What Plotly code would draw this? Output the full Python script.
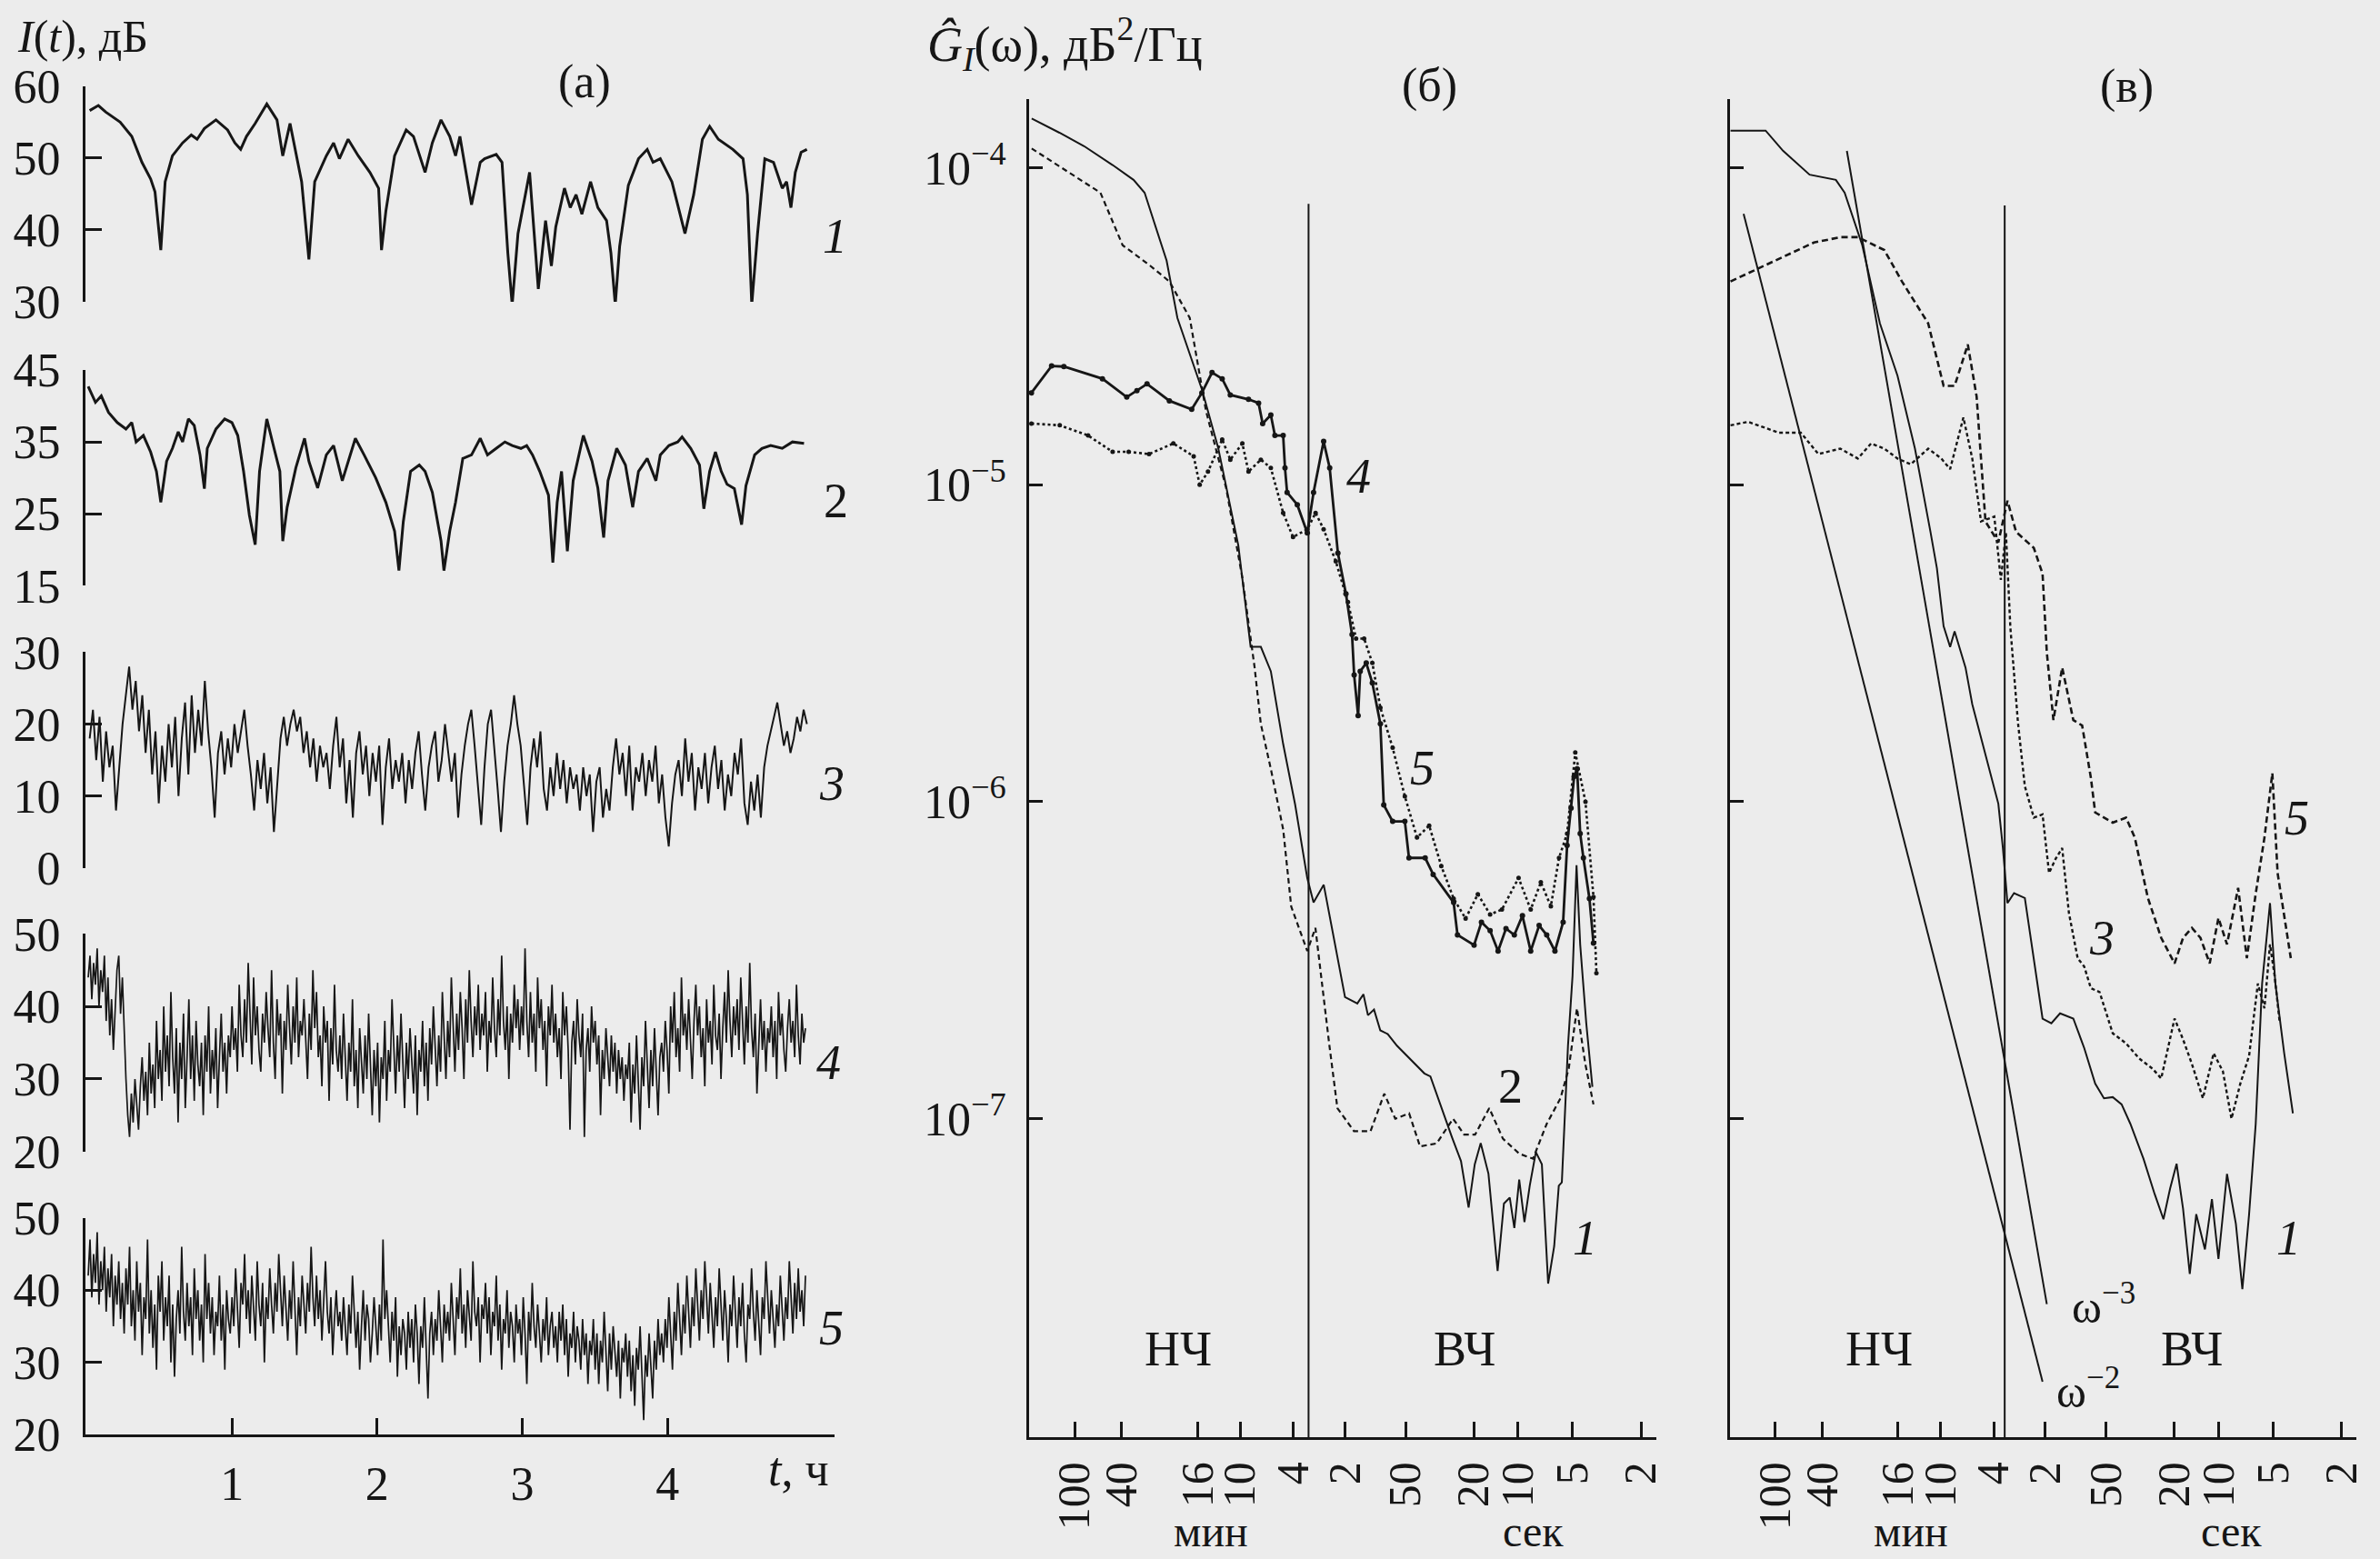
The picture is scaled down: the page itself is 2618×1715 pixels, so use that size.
import numpy as np
import plotly.graph_objects as go

W, H = 2618, 1715
SCALE = 2618 / 1568.0
BG = "#ececec"
INK = "#161616"
FONT = "Liberation Serif, Times New Roman, serif"

# ---------------- panel (a): I(t), dB ----------------
t1 = [0.02,0.08,0.13,0.23,0.31,0.38,0.44,0.47,0.51,0.54,
      0.59,0.66,0.72,0.76,0.81,0.89,0.97,1.02,1.06,1.10,
      1.16,1.24,1.31,1.35,1.40,1.48,1.53,1.57,1.65,1.70,
      1.74,1.80,1.87,1.95,2.01,2.03,2.06,2.12,2.20,2.25,
      2.33,2.38,2.44,2.50,2.54,2.57,2.65,2.71,2.74,2.82,
      2.86,2.90,2.93,2.97,3.05,3.08,3.11,3.16,3.20,3.23,
      3.29,3.33,3.37,3.41,3.47,3.52,3.58,3.61,3.64,3.67,
      3.73,3.80,3.86,3.90,3.95,4.03,4.12,4.18,4.24,4.29,
      4.35,4.45,4.52,4.55,4.58,4.62,4.67,4.73,4.79,4.82,
      4.85,4.88,4.92,4.96]
v1 = [56.6,57.3,56.4,55.0,53.0,49.4,47.1,45.3,37.2,46.7,
      50.3,52.1,53.2,52.6,54.1,55.3,53.9,52.1,51.2,53.0,
      54.8,57.5,55.3,50.3,54.8,46.7,35.9,46.7,50.3,52.1,
      49.9,52.6,50.3,48.0,45.8,37.2,42.6,50.3,53.9,53.0,
      48.0,52.1,55.3,53.0,50.3,53.0,43.5,49.4,49.9,50.5,
      49.4,36.8,29.6,39.5,48.0,40.4,31.8,41.3,35.0,40.4,
      45.8,43.1,44.9,42.2,46.7,43.1,41.3,36.8,29.6,37.7,
      46.2,49.9,51.2,49.4,49.9,46.7,39.5,44.9,52.6,54.4,
      52.6,51.2,49.9,44.9,29.6,39.5,49.9,49.4,45.8,46.7,
      43.1,48.0,50.8,51.2]

t2 = [0.01,0.06,0.10,0.15,0.21,0.27,0.31,0.34,0.39,0.44,
      0.48,0.51,0.55,0.59,0.63,0.66,0.70,0.74,0.78,0.81,
      0.83,0.89,0.95,1.00,1.04,1.08,1.12,1.16,1.19,1.24,
      1.29,1.33,1.35,1.38,1.44,1.50,1.53,1.59,1.65,1.70,
      1.76,1.80,1.85,1.91,1.99,2.06,2.12,2.15,2.18,2.23,
      2.29,2.33,2.38,2.44,2.46,2.50,2.54,2.59,2.65,2.71,
      2.76,2.82,2.88,2.93,2.99,3.03,3.07,3.12,3.18,3.21,
      3.24,3.27,3.31,3.35,3.42,3.48,3.52,3.56,3.59,3.65,
      3.71,3.76,3.80,3.86,3.92,3.95,4.01,4.07,4.10,4.16,
      4.22,4.25,4.29,4.33,4.37,4.41,4.46,4.51,4.54,4.60,
      4.65,4.71,4.79,4.86,4.94]
v2 = [42.7,40.5,41.4,39.1,37.7,36.8,37.7,35.0,35.9,33.6,
      30.9,26.6,32.3,34.1,36.4,35.0,38.2,37.3,33.2,28.5,
      34.1,36.8,38.2,37.7,35.9,30.9,24.8,20.7,30.9,38.2,
      34.1,30.9,21.2,25.9,31.4,35.5,32.3,28.6,33.2,34.5,
      29.6,32.3,35.5,33.2,30.0,26.6,22.6,17.1,23.9,30.9,
      31.8,30.9,28.0,21.2,17.1,22.6,26.6,32.7,33.2,35.5,
      33.2,34.1,35.0,34.5,34.1,34.5,33.2,30.9,27.6,18.2,
      26.6,30.9,19.8,29.6,35.9,32.3,28.6,21.7,29.6,34.1,
      31.8,25.9,30.9,32.7,29.6,33.2,34.5,35.0,35.7,34.1,
      31.8,25.7,30.9,33.6,30.9,29.1,28.5,23.5,28.9,33.2,
      34.1,34.5,34.1,35.0,34.8]

v3 = [18,22,15,21,12,19,14,17,8,14,20,24,28,22,26,19,24,16,22,13,
      19,9,17,12,20,14,21,10,18,23,13,24,16,22,17,26,19,14,7,16,
      19,13,18,14,20,16,19,22,17,13,8,15,11,16,9,14,5,12,18,21,
      17,20,22,19,21,16,19,14,18,12,17,14,16,11,17,21,14,18,9,15,
      7,16,19,13,17,10,16,12,17,6,14,18,11,15,12,16,9,15,11,16,
      19,13,8,14,17,19,12,15,20,16,12,16,7,13,17,20,22,17,12,6,
      14,20,22,17,11,5,12,17,20,24,20,17,12,6,14,18,14,19,11,8,
      14,10,16,11,15,9,14,11,13,8,14,10,13,5,12,14,7,11,8,14,
      18,13,16,10,17,8,14,12,16,10,15,12,17,9,13,7,3,9,13,15,
      10,18,12,16,8,14,11,16,9,14,17,11,15,8,13,10,16,13,18,9,
      6,12,8,13,7,14,17,19,21,23,20,17,19,16,18,21,19,22,20]

v4 = [44,47,41,46,43,48,40,45,42,47,38,44,36,41,34,40,45,47,39,44,
      36,30,25,22,28,24,30,26,23,29,33,27,31,25,35,28,32,26,38,30,
      34,27,40,31,36,29,42,33,28,37,24,35,30,39,26,33,41,30,36,27,
      38,32,29,35,25,36,31,40,28,34,30,37,26,33,39,31,35,28,36,33,
      40,34,37,31,43,36,33,41,35,46,38,32,44,36,40,34,31,39,35,42,
      37,33,45,35,30,41,36,39,28,38,34,43,37,32,40,35,44,33,38,36,
      41,35,30,39,34,45,37,42,33,36,29,40,35,38,27,37,32,43,34,31,
      36,30,39,33,27,35,31,41,29,34,26,37,32,28,36,30,39,33,25,34,
      29,35,24,33,30,38,27,34,31,41,33,28,36,31,39,32,26,35,30,37,
      33,28,36,25,34,31,38,29,35,27,37,32,40,34,29,36,31,42,35,30,
      38,33,44,36,31,39,34,42,37,30,41,35,45,38,33,40,36,43,34,39,
      36,42,31,38,35,44,37,33,41,36,47,38,34,40,30,39,35,43,37,41,
      34,40,36,48,38,33,42,35,39,31,44,37,41,34,38,29,40,36,43,35,
      39,33,37,30,42,36,40,34,23,35,38,32,41,36,33,39,22,34,37,31,
      40,35,38,32,36,25,34,30,37,33,29,36,31,35,28,34,30,33,27,32,
      30,35,24,32,28,36,30,23,33,29,38,31,26,34,29,37,30,25,33,35,
      31,38,34,28,40,35,42,33,37,31,44,36,39,34,41,35,30,38,43,36,
      40,33,37,29,41,35,38,32,43,36,34,39,30,37,42,35,45,38,33,40,
      36,41,34,44,38,32,40,35,46,37,33,39,28,36,41,34,38,31,37,35,
      40,33,38,30,42,36,39,34,31,37,41,35,38,33,43,36,32,39,35,37]

v5 = [42,47,39,45,41,48,38,44,40,46,37,43,39,45,35,42,38,44,36,41,
      34,43,38,46,35,40,33,44,37,41,31,39,36,47,34,40,32,38,29,42,
      37,44,33,39,35,42,30,38,28,36,40,34,46,37,33,41,35,39,31,43,
      36,40,33,38,30,45,36,41,34,39,31,37,35,42,33,38,29,40,36,34,
      39,35,43,37,32,41,38,45,36,40,34,42,37,33,44,38,35,41,30,39,
      36,43,38,34,41,37,45,39,35,42,38,33,40,36,44,37,31,39,35,42,
      38,34,41,37,46,39,35,42,36,40,33,38,44,37,34,39,31,36,40,35,
      37,33,39,35,31,38,34,42,36,32,37,29,35,40,33,38,36,30,34,39,
      35,31,38,33,47,36,40,34,30,37,33,39,28,35,31,36,34,29,37,32,
      36,30,38,34,27,35,32,39,33,25,34,37,31,36,33,40,35,30,38,34,
      37,33,41,35,31,39,36,43,34,38,32,40,36,33,44,37,35,39,30,38,
      36,41,34,39,31,37,35,42,33,38,29,36,34,40,32,37,35,30,38,34,
      36,31,39,34,27,37,33,41,35,32,38,34,30,36,33,39,31,35,37,32,
      35,30,37,33,38,31,36,28,34,32,37,30,35,33,29,36,31,34,27,33,
      31,36,29,34,27,33,30,37,32,26,34,29,35,31,28,33,25,32,30,34,
      28,33,26,31,24,32,29,35,27,22,31,28,34,30,25,33,29,36,31,34,
      30,36,32,39,34,29,37,33,41,35,31,38,34,42,36,32,39,35,43,37,
      33,40,36,44,38,34,41,37,32,39,35,43,37,33,40,36,30,38,35,42,
      37,32,39,35,41,34,30,38,36,43,37,33,40,35,31,39,36,44,38,34,
      40,36,32,38,35,42,37,33,39,36,44,38,34,41,36,43,37,40,35,42]

# ---------------- panel (б): spectra, period T [s] vs G [dB^2/Hz] ----------------
b_T1 = [11020,7447,5255,3510,2612,2233,1636,1405,994,790,594,499,432,375,315,266,224,205,
        177.5,131.4,110.4,101.3,95.0,87.2,79.8,71.8,63.1,55.3,48.6,42.8,39.3,34.4,29.0,25.5,
        22.9,21.0,19.3,17.3,15.2,13.9,12.8,12.0,11.2,10.4,9.65,8.85,8.13,7.44,6.83,6.40,6.13,
        5.62,5.27,4.98,4.73,4.34,3.98]
b_G1 = [1.43e-4,1.29e-4,1.17e-4,1.02e-4,9.16e-5,8.34e-5,5.09e-5,3.36e-5,2.0e-5,1.31e-5,6.44e-6,
        3.08e-6,3.08e-6,2.58e-6,1.52e-6,9.8e-7,5.74e-7,4.81e-7,5.47e-7,2.42e-7,2.31e-7,2.47e-7,
        2.12e-7,2.21e-7,1.90e-7,1.85e-7,1.70e-7,1.59e-7,1.49e-7,1.39e-7,1.36e-7,1.12e-7,8.75e-8,
        7.35e-8,5.25e-8,7.18e-8,8.38e-8,6.71e-8,3.31e-8,5.40e-8,5.64e-8,4.52e-8,6.43e-8,4.72e-8,
        6.15e-8,7.85e-8,7.18e-8,3.02e-8,3.96e-8,6.15e-8,6.30e-8,1.70e-7,2.82e-7,6.31e-7,3.55e-7,
        2.0e-7,1.26e-7]

b_T2 = [11020,4169,3048,2066,1574,1180,938,705,561,472,432,375,315,281,224,199.7,164.5,146.3,
        115.8,91.6,75.4,64.6,53.1,45.5,36.0,28.5,24.4,20.9,17.1,14.1,11.2,9.22,7.59,6.25,5.56,
        4.95,4.40,3.92]
b_G2 = [1.15e-4,8.34e-5,5.70e-5,4.91e-5,4.38e-5,3.36e-5,1.71e-5,9.75e-6,5.09e-6,2.66e-6,1.76e-6,
        1.27e-6,8.18e-7,4.67e-7,3.38e-7,4.0e-7,1.73e-7,1.08e-7,9.14e-8,9.14e-8,1.20e-7,1.0e-7,
        1.04e-7,8.18e-8,8.36e-8,1.0e-7,8.91e-8,8.91e-8,1.08e-7,8.65e-8,7.76e-8,7.48e-8,9.64e-8,
        1.16e-7,1.44e-7,2.23e-7,1.49e-7,1.11e-7]

b_T4 = [11066,8318,6993,4055,2875,2490,2158,1574,1148,994,861,746,665,514,446,421,375,354,315,
        307,298,258,224,205,177.8,163.2,145.3,129.7,119.0,115.5,109.2,106.0,97.3,89.3,79.7,76.0,
        67.0,56.4,53.2,42.3,37.8,28.3,26.8,21.2,19.1,16.9,15.1,13.5,12.0,10.7,9.52,8.45,7.59,
        6.76,6.02,5.69,5.38,5.15,4.94,4.73,4.52,4.15,3.92]
b_G4 = [1.95e-5,2.37e-5,2.36e-5,2.16e-5,1.89e-5,1.98e-5,2.08e-5,1.84e-5,1.73e-5,1.95e-5,2.26e-5,
        2.16e-5,1.92e-5,1.86e-5,1.81e-5,1.56e-5,1.66e-5,1.43e-5,1.43e-5,1.13e-5,9.46e-6,8.65e-6,
        7.05e-6,9.46e-6,1.37e-5,1.13e-5,6.08e-6,4.53e-6,3.37e-6,2.51e-6,1.87e-6,2.58e-6,2.74e-6,
        2.37e-6,1.76e-6,9.77e-7,8.67e-7,8.67e-7,6.65e-7,6.65e-7,5.90e-7,4.81e-7,3.80e-7,3.53e-7,
        4.17e-7,3.92e-7,3.38e-7,3.98e-7,3.80e-7,4.37e-7,3.38e-7,4.07e-7,3.80e-7,3.38e-7,4.17e-7,
        7.28e-7,9.55e-7,1.20e-6,1.27e-6,7.94e-7,6.65e-7,4.95e-7,3.58e-7]

b_T5 = [11066,7410,4962,3510,2797,2097,1488,1116,1025,912,746,665,561,514,432,375,315,274,224,
        199.2,177.8,149.7,126.1,112.4,100.3,89.3,79.7,67.0,56.4,47.5,40.0,33.7,28.3,23.9,20.1,
        16.9,14.3,11.3,9.52,8.25,7.16,6.38,5.69,5.07,4.39,3.92,3.76]
b_G5 = [1.56e-5,1.54e-5,1.43e-5,1.27e-5,1.27e-5,1.25e-5,1.35e-5,1.23e-5,1.0e-5,1.10e-5,1.39e-5,
        1.20e-5,1.35e-5,1.10e-5,1.20e-5,1.13e-5,8.15e-6,6.84e-6,7.24e-6,8.15e-6,7.24e-6,5.73e-6,
        4.27e-6,3.27e-6,3.27e-6,2.74e-6,1.98e-6,1.48e-6,1.04e-6,7.71e-7,8.41e-7,6.27e-7,4.95e-7,
        4.28e-7,5.11e-7,4.41e-7,4.57e-7,5.75e-7,4.57e-7,5.57e-7,4.68e-7,6.65e-7,7.94e-7,1.43e-6,
        1.0e-6,5.01e-7,2.88e-7]

# ---------------- panel (в) ----------------
v_T1 = [11280,6871,5358,3690,2545,2248,1752,1365,1065,832,668,610,555,506,475,407,370,289,256,
        240,225,205,176,137,121,107,88.7,76.0,65.1,57.5,50.8,44.8,39.6,32.9,28.1,24.8,22.6,
        20.6,18.8,17.1,15.6,13.8,12.5,11.4,10.1,8.91,8.13,7.39,6.73,6.15,5.50,5.10,4.50,3.98]
v_G1 = [1.31e-4,1.31e-4,1.13e-4,9.51e-5,9.16e-5,8.34e-5,5.70e-5,3.23e-5,2.21e-5,1.30e-5,7.10e-6,
        5.45e-6,3.58e-6,3.08e-6,3.45e-6,2.65e-6,2.03e-6,1.24e-6,9.86e-7,7.14e-7,4.79e-7,5.15e-7,
        4.97e-7,2.07e-7,2.0e-7,2.15e-7,2.07e-7,1.67e-7,1.29e-7,1.16e-7,1.17e-7,1.11e-7,9.64e-8,
        7.48e-8,5.79e-8,4.82e-8,6.01e-8,7.21e-8,5.20e-8,3.24e-8,5.0e-8,3.87e-8,5.58e-8,3.61e-8,
        6.70e-8,4.66e-8,2.90e-8,5.0e-8,9.64e-8,2.67e-7,4.79e-7,2.67e-7,1.61e-7,1.04e-7]

v_T3 = [11280,8812,5702,4178,3258,2392,1864,1546,1283,1065,883,690,573,506,419.5,370,327,271,
        247,230,216,194,176,155,137,125,113.8,103.8,94.4,83.4,76.0,69.2,61.2,50.8,42.1,35.0,
        29.0,25.6,21.2,18.8,16.6,14.2,12.2,10.7,9.48,8.37,7.39,6.53,5.95,5.50,5.15,4.79]
v_G3 = [1.54e-5,1.58e-5,1.46e-5,1.46e-5,1.25e-5,1.30e-5,1.21e-5,1.35e-5,1.30e-5,1.21e-5,1.16e-5,
        1.30e-5,1.21e-5,1.12e-5,1.63e-5,1.21e-5,7.66e-6,7.94e-6,5.01e-6,7.08e-6,3.55e-6,1.78e-6,
        1.12e-6,8.91e-7,9.12e-7,5.96e-7,6.61e-7,7.14e-7,4.46e-7,3.21e-7,3.02e-7,2.58e-7,2.51e-7,
        1.86e-7,1.73e-7,1.55e-7,1.44e-7,1.34e-7,2.07e-7,1.78e-7,1.49e-7,1.16e-7,1.61e-7,1.41e-7,
        1.0e-7,1.29e-7,1.58e-7,2.67e-7,2.23e-7,3.55e-7,2.82e-7,2.0e-7]

v_T5 = [11280,6457,3466,2392,1864,1283,1000,690,555,475,394,348,307,256,225,199.2,155,137,129,
        117.5,103.8,88.7,78.3,69.2,65.1,50.8,42.1,37.2,30.9,25.6,21.2,18.8,16.6,14.7,12.9,11.4,
        10.1,8.63,7.63,6.73,5.95,5.32,4.94,4.10]
v_G5 = [4.38e-5,5.0e-5,5.81e-5,6.04e-5,6.04e-5,5.50e-5,4.38e-5,3.23e-5,2.05e-5,2.05e-5,2.77e-5,
        1.90e-5,7.66e-6,6.58e-6,8.91e-6,7.10e-6,6.32e-6,5.24e-6,2.96e-6,1.81e-6,2.65e-6,1.81e-6,
        1.74e-6,1.19e-6,9.25e-7,8.59e-7,8.91e-7,7.71e-7,4.97e-7,3.72e-7,3.09e-7,3.72e-7,4.0e-7,
        3.72e-7,3.09e-7,4.30e-7,3.55e-7,5.35e-7,3.21e-7,5.13e-7,7.71e-7,1.23e-6,5.96e-7,3.21e-7]

# power-law guide lines (end points)
w3_T = [2178, 129]
w3_G = [1.13e-4, 2.6e-8]
w2_T = [9376, 137]
w2_G = [7.16e-5, 1.48e-8]

# LF/HF boundary lines
div_b_T = [220, 220]
div_b_G = [7.7e-5, 9.9e-9]
div_v_T = [234, 234]
div_v_G = [7.6e-5, 9.9e-9]

# period axis: tick marks as placed on the original (hand-drawn) scale, in seconds
period_ticks = [6000, 3087, 1056, 579, 273, 131.7, 55.8, 21.3, 11.4, 5.27, 2.0]
period_text = ["100", "40", "16", "10", "4", "2", "50", "20", "10", "5", "2"]
g_ticks = [1e-4, 1e-5, 1e-6, 1e-7]
g_text = ["10<sup>\u22124</sup>", "10<sup>\u22125</sup>", "10<sup>\u22126</sup>", "10<sup>\u22127</sup>"]

# ---------------- geometry helpers (positions in a 1568x1027 view of the reference) ----------
def px(x):
    return x * SCALE / W

def py(y):
    return 1 - y * SCALE / H

def xdom(a, b):
    return [px(a), px(b)]

def ydom(top, bottom):
    return [py(bottom), py(top)]

fig = go.Figure()

# panel (a) traces
t3 = np.linspace(0.02, 4.96, len(v3))
t4 = np.linspace(0.01, 4.95, len(v4))
t5 = np.linspace(0.01, 4.95, len(v5))
series = [(t1, v1, 3.0), (t2, v2, 3.0), (t3, v3, 2.0), (t4, v4, 1.7), (t5, v5, 1.7)]
for k, (tt, vv, lw) in enumerate(series, start=1):
    ax = "" if k == 1 else str(k)
    fig.add_trace(go.Scatter(x=list(tt), y=vv, mode="lines", line=dict(color=INK, width=lw),
                             xaxis="x" + ax, yaxis="y" + ax, showlegend=False, hoverinfo="skip"))


def spec(T, G, xa, ya, width=2.0, dash="solid", marker=None):
    kw = dict(x=T, y=G, xaxis=xa, yaxis=ya, showlegend=False, hoverinfo="skip",
              line=dict(color=INK, width=width, dash=dash))
    if marker:
        kw["mode"] = "lines+markers"
        kw["marker"] = marker
    else:
        kw["mode"] = "lines"
    fig.add_trace(go.Scatter(**kw))

# panel (б)
spec(b_T1, b_G1, "x6", "y6", 2.0)
spec(b_T2, b_G2, "x6", "y6", 2.2, "6px,4px")
spec(b_T4, b_G4, "x6", "y6", 2.8, marker=dict(symbol="circle", size=6, color=INK))
spec(b_T5, b_G5, "x6", "y6", 2.6, "3px,3px", marker=dict(symbol="circle", size=5, color=INK))
spec(div_b_T, div_b_G, "x6", "y6", 2.0)

# panel (в)
spec(v_T1, v_G1, "x7", "y7", 2.0)
spec(v_T3, v_G3, "x7", "y7", 2.4, "4px,3px")
spec(v_T5, v_G5, "x7", "y7", 2.6, "7px,4px")
spec(w3_T, w3_G, "x7", "y7", 2.0)
spec(w2_T, w2_G, "x7", "y7", 2.0)
spec(div_v_T, div_v_G, "x7", "y7", 2.0)

tickfont = dict(family=FONT, size=52, color=INK)
xtickfont = dict(family=FONT, size=50, color=INK)

layout = dict(width=W, height=H, margin=dict(l=0, r=0, t=0, b=0, pad=0),
              paper_bgcolor=BG, plot_bgcolor=BG, showlegend=False, hovermode=False)

# panel (a) axes
a_xdom = xdom(56.2, 549.8)
a_ydoms = [ydom(56.7, 198.9), ydom(243.8, 385.9), ydom(429.7, 571.9),
           ydom(615.3, 758.7), ydom(802.4, 945.2)]
a_ranges = [[30, 60], [15, 45], [0, 30], [20, 50], [20, 50]]
a_ticks = [[30, 40, 50, 60], [15, 25, 35, 45], [0, 10, 20, 30], [20, 30, 40, 50], [20, 30, 40, 50]]
for k in range(1, 6):
    ax = "" if k == 1 else str(k)
    xa = dict(domain=a_xdom, range=[-0.01, 5.15], anchor="y" + ax, showgrid=False,
              zeroline=False, automargin=False)
    if k == 5:
        xa.update(showline=True, linecolor=INK, linewidth=3, ticks="inside", ticklen=18,
                  tickwidth=3, tickcolor=INK, tickvals=[1, 2, 3, 4], tickfont=tickfont,
                  ticklabelstandoff=6)
    else:
        xa.update(visible=False)
    layout["xaxis" + ax] = xa
    layout["yaxis" + ax] = dict(domain=a_ydoms[k - 1], range=a_ranges[k - 1], anchor="x" + ax,
                                showgrid=False, zeroline=False, showline=True, linecolor=INK,
                                linewidth=3, ticks="inside", ticklen=18, tickwidth=3,
                                tickcolor=INK, tickvals=a_ticks[k - 1], tickfont=tickfont,
                                ticklabelstandoff=14, automargin=False)

# spectra axes
sp_ydom = ydom(65, 947)
sp_yrange = [-8.005, -3.782]
sp_xrange = [np.log10(11430), np.log10(1.62)]
for n, dom, labels in ((6, xdom(678, 1091), True), (7, xdom(1139.5, 1552.5), False)):
    layout["xaxis%d" % n] = dict(domain=dom, type="log", range=sp_xrange, anchor="y%d" % n,
                                 showgrid=False, zeroline=False, showline=True, linecolor=INK,
                                 linewidth=3, ticks="inside", ticklen=17, tickwidth=3,
                                 tickcolor=INK, tickvals=period_ticks, ticktext=period_text,
                                 tickangle=-90, tickfont=xtickfont, ticklabelstandoff=4,
                                 automargin=False)
    layout["yaxis%d" % n] = dict(domain=sp_ydom, type="log", range=sp_yrange, anchor="x%d" % n,
                                 showgrid=False, zeroline=False, showline=True, linecolor=INK,
                                 linewidth=3, ticks="inside", ticklen=15, tickwidth=3,
                                 tickcolor=INK, tickvals=g_ticks, ticktext=g_text,
                                 showticklabels=labels, tickfont=tickfont, ticklabelstandoff=12,
                                 automargin=False)

fig.update_layout(**layout)


def note(text, x, y, size=50, italic=False, xanchor="center"):
    if italic:
        text = "<i>" + text + "</i>"
    fig.add_annotation(text=text, x=px(x), y=py(y), xref="paper", yref="paper",
                       xanchor=xanchor, yanchor="middle", showarrow=False,
                       font=dict(family=FONT, size=size, color=INK))

note("<i>I</i>(<i>t</i>), дБ", 10, 24, size=50, xanchor="left")
note("(a)", 385, 54, size=52)
note("<i>G\u0302</i><sub><i>I</i></sub>(ω), дБ<sup>2</sup>/Гц", 610, 29, size=54, xanchor="left")
note("(б)", 942, 56, size=52)
note("(в)", 1401, 57, size=52)

# panel (a) curve labels
note("1", 550, 156, 54, True)
note("2", 551, 330, 54)
note("3", 548, 516, 54, True)
note("4", 546, 700, 54, True)
note("5", 548, 875, 54, True)
note("<i>t</i>, ч", 526, 968, 52)

# panel (б) labels
note("4", 895, 314, 54, True)
note("5", 937, 506, 54, True)
note("2", 995, 716, 54)
note("1", 1044, 816, 54, True)
note("НЧ", 776, 889, 54)
note("ВЧ", 965, 889, 54)
note("мин", 798, 1009, 48)
note("сек", 1010, 1009, 48)

# panel (в) labels
note("5", 1513, 539, 54, True)
note("3", 1385, 618, 54, True)
note("1", 1508, 816, 54, True)
note("ω<sup>\u22123</sup>", 1386, 859, 50)
note("ω<sup>\u22122</sup>", 1376, 915, 50)
note("НЧ", 1238, 889, 54)
note("ВЧ", 1444, 889, 54)
note("мин", 1259, 1009, 48)
note("сек", 1470, 1009, 48)

fig.write_html("out.html",
               config={"displayModeBar": False, "staticPlot": True},
               post_script="document.body.style.margin='0px';"
                           "document.body.style.background='%s';"
                           "document.documentElement.style.overflow='hidden';" % BG)
